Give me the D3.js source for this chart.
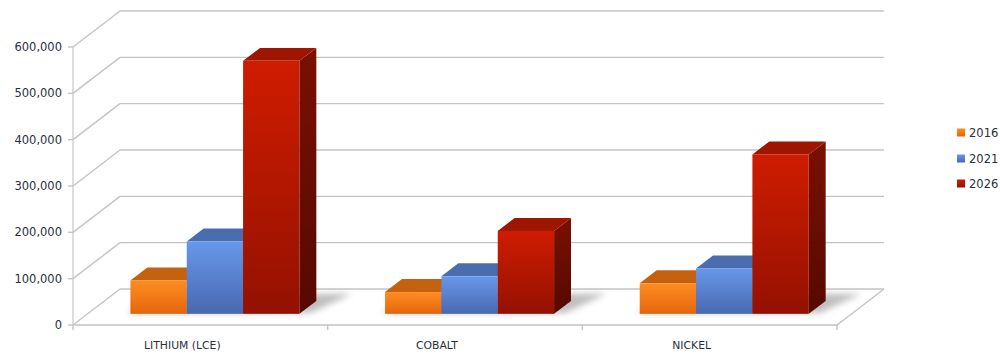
<!DOCTYPE html>
<html>
<head>
<meta charset="utf-8">
<script src="https://cdn.jsdelivr.net/npm/d3@7"></script>
<style>
  html, body { margin: 0; padding: 0; background: #fff; }
  svg { display: block; }
  text { font-family: "DejaVu Sans", "Open Sans", sans-serif; fill: #2a2f3d; }
</style>
</head>
<body>
<svg id="chart" width="1000" height="356"></svg>
<script>
// Battery metal demand (tonnes)
const categories = ["LITHIUM (LCE)", "COBALT", "NICKEL"];
const series = ["2016", "2021", "2026"];
const values2016 = [72000, 47000, 66000];
const values2021 = [156000, 81000, 98000];
const values2026 = [546000, 179000, 344000];
const yTicks = [0, 100000, 200000, 300000, 400000, 500000, 600000];

const seriesValues = [values2016, values2021, values2026];

const svg = d3.select("#chart");
const defs = svg.append("defs");

// 3D box geometry
const DX = 47, DY = 36;       // full depth offset of the back wall
const D0 = 0.31, D1 = 0.67;   // depth span of the bars

const y = d3.scaleLinear().domain([0, 600000]).range([325, 47]);
const x = d3.scaleBand().domain(categories).range([73, 837]);
const xs = d3.scaleBand().domain(series).range([0, x.bandwidth()]).paddingOuter(0.76);

const P = (px, v, d) => [px + d * DX, y(v) - d * DY];
const poly = pts => pts.map(p => p.join(",")).join(" ");

const palette = {
  "2016": { front: ["#ff8d22", "#e4650c"], top: "#c4620f", side: "#a44e0c" },
  "2021": { front: ["#6898ea", "#4868b0"], top: "#4a6daf", side: "#3a5890" },
  "2026": { front: ["#cf1c00", "#941100"], top: "#9e1600", side: ["#7a1000", "#560900"] }
};

series.forEach((s, i) => {
  const g = defs.append("linearGradient").attr("id", "front" + i)
    .attr("x1", 0).attr("y1", 0).attr("x2", 0).attr("y2", 1);
  g.append("stop").attr("offset", "0%").attr("stop-color", palette[s].front[0]);
  g.append("stop").attr("offset", "100%").attr("stop-color", palette[s].front[1]);
});
const sg = defs.append("linearGradient").attr("id", "sideRed")
  .attr("x1", 0).attr("y1", 0).attr("x2", 0).attr("y2", 1);
sg.append("stop").attr("offset", "0%").attr("stop-color", palette["2026"].side[0]);
sg.append("stop").attr("offset", "100%").attr("stop-color", palette["2026"].side[1]);

const blur = defs.append("filter").attr("id", "soft")
  .attr("x", "-20%").attr("y", "-50%").attr("width", "140%").attr("height", "200%");
blur.append("feGaussianBlur").attr("stdDeviation", 3);

const grid = svg.append("g").attr("fill", "none").attr("stroke", "#c4c4c4").attr("stroke-width", 1.4);

// back wall gridlines
grid.selectAll(".back").data(yTicks).join("line")
  .attr("x1", d => P(73, d, 1)[0]).attr("y1", d => P(73, d, 1)[1])
  .attr("x2", d => P(837, d, 1)[0]).attr("y2", d => P(837, d, 1)[1]);

// side wall diagonals
grid.selectAll(".side").data(yTicks).join("line")
  .attr("x1", d => P(73, d, 0)[0]).attr("y1", d => P(73, d, 0)[1])
  .attr("x2", d => P(73, d, 1)[0]).attr("y2", d => P(73, d, 1)[1]);

// floor front and right edges
grid.append("polyline")
  .attr("points", poly([P(73, 0, 0), P(837, 0, 0), P(837, 0, 1)]));

// value axis line and ticks
grid.append("line").attr("stroke", "#cfcfcf")
  .attr("x1", 73).attr("x2", 73).attr("y1", y(600000)).attr("y2", y(0));
grid.selectAll(".ytick").data(yTicks).join("line")
  .attr("x1", 68).attr("x2", 73).attr("y1", d => y(d)).attr("y2", d => y(d));

// category ticks
const catEdges = categories.map(c => x(c)).concat([x(categories[categories.length - 1]) + x.bandwidth()]);
grid.selectAll(".xtick").data(catEdges).join("line")
  .attr("x1", d => d).attr("x2", d => d).attr("y1", y(0)).attr("y2", y(0) + 5);

// value labels
const fmt = d3.format(",");
svg.append("g").selectAll("text").data(yTicks).join("text")
  .attr("x", 62).attr("y", d => y(d)).attr("dy", "0.35em")
  .attr("text-anchor", "end").attr("font-size", 11.5)
  .text(d => fmt(d));

// category labels
svg.append("g").selectAll("text").data(categories).join("text")
  .attr("x", c => x(c) + x.bandwidth() / 2 - 18).attr("y", 349)
  .attr("text-anchor", "middle").attr("font-size", 10.8)
  .text(c => c);

// bars
const bars = svg.append("g");
categories.forEach((c, ci) => {
  const gx = x(c);
  const first = gx + xs(series[0]);
  const last = gx + xs(series[series.length - 1]) + xs.bandwidth();
  // soft floor shadow around the group footprint
  bars.append("polygon")
    .attr("points", poly([P(first - 4, 0, D0 + 0.02), P(last + 10, 0, D0 + 0.02),
                          P(last + 26, 0, D1 + 0.2), P(first + 6, 0, D1 + 0.2)]))
    .attr("fill", "#8a8a8a").attr("opacity", 0.55).attr("filter", "url(#soft)");

  series.forEach((s, si) => {
    const v = seriesValues[si][ci];
    const x0 = gx + xs(s), x1 = x0 + xs.bandwidth();
    const bg = bars.append("g");
    bg.append("polygon")
      .attr("points", poly([P(x1, 0, D0), P(x1, v, D0), P(x1, v, D1), P(x1, 0, D1)]))
      .attr("fill", s === "2026" ? "url(#sideRed)" : palette[s].side);
    bg.append("polygon")
      .attr("points", poly([P(x0, v, D0), P(x1, v, D0), P(x1, v, D1), P(x0, v, D1)]))
      .attr("fill", palette[s].top);
    const f0 = P(x0, v, D0), f1 = P(x1, 0, D0);
    bg.append("rect")
      .attr("x", f0[0]).attr("y", f0[1])
      .attr("width", f1[0] - f0[0]).attr("height", f1[1] - f0[1])
      .attr("fill", `url(#front${si})`);
  });
});

// legend
const legend = svg.append("g");
const legendY = [133, 159, 184];
series.forEach((s, i) => {
  legend.append("rect")
    .attr("x", 957).attr("y", legendY[i] - 4.5).attr("width", 8).attr("height", 8)
    .attr("fill", `url(#front${i})`);
  legend.append("text")
    .attr("x", 969).attr("y", legendY[i]).attr("dy", "0.35em")
    .attr("font-size", 11.5)
    .text(s);
});
</script>
</body>
</html>
